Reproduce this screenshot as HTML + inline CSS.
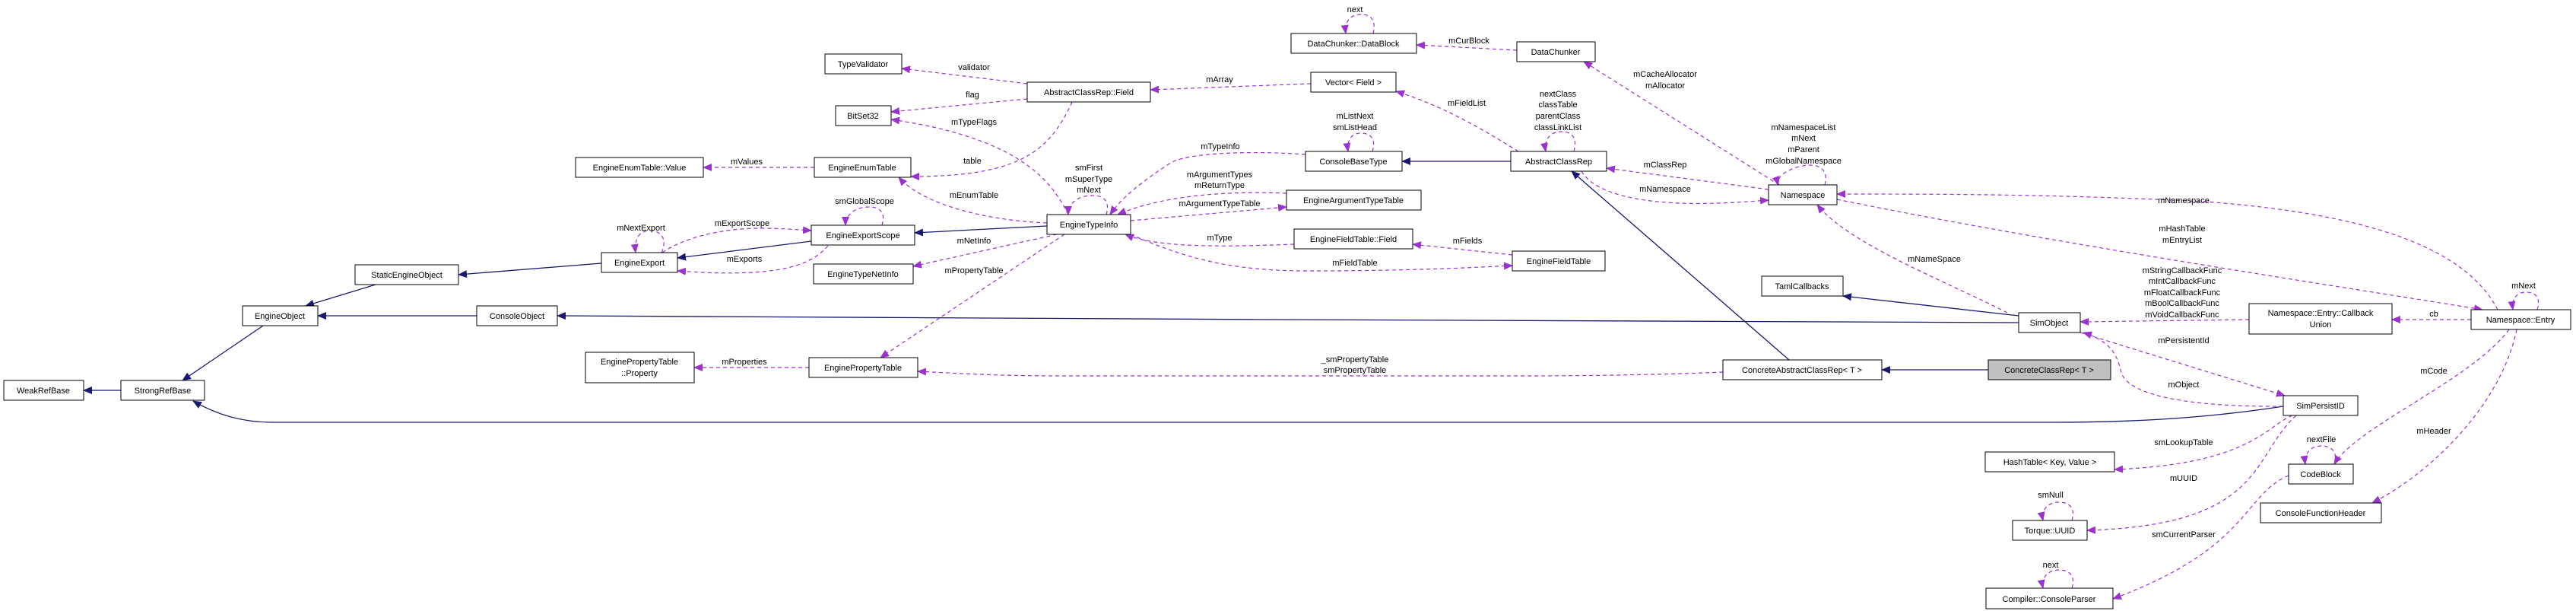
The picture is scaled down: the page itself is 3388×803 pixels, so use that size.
<!DOCTYPE html>
<html><head><meta charset="utf-8"><style>
html,body{margin:0;padding:0;background:#fff;}
svg{display:block;}
text{font-family:"Liberation Sans",Arial,sans-serif;font-size:11px;fill:#000;}
.n{fill:#fff;stroke:#000;stroke-width:1;}
.g{fill:#bfbfbf;stroke:#000;stroke-width:1;}
.sh{stroke:#666;stroke-width:2;}
.i{fill:none;stroke:#191970;stroke-width:1.3;}
.u{fill:none;stroke:#9a32cd;stroke-width:1.2;stroke-dasharray:5,4;}
</style></head><body>
<svg width="3388" height="803" viewBox="0 0 3388 803" xmlns="http://www.w3.org/2000/svg">
<defs>
<marker id="ai" markerWidth="12" markerHeight="10" refX="11" refY="5" orient="auto" markerUnits="userSpaceOnUse"><path d="M0,0 L12,5 L0,10 z" fill="#191970"/></marker>
<marker id="au" markerWidth="12" markerHeight="10" refX="11" refY="5" orient="auto" markerUnits="userSpaceOnUse"><path d="M0,0 L12,5 L0,10 z" fill="#9a32cd"/></marker>
</defs>

<!-- inheritance edges -->
<g class="i">
<path d="M159,513 L110,513" marker-end="url(#ai)"/>
<path d="M346,428 L240,500" marker-end="url(#ai)"/>
<path d="M3003,534 C2900,550 2800,555 2700,555 L357,555 C320,555 285,545 254,527" marker-end="url(#ai)"/>
<path d="M494,374 L402,402" marker-end="url(#ai)"/>
<path d="M627,415 L418,415" marker-end="url(#ai)"/>
<path d="M2655,424 C2300,423 1200,418 733,415" marker-end="url(#ai)"/>
<path d="M791,346 L603,361" marker-end="url(#ai)"/>
<path d="M1067,317 L891,339" marker-end="url(#ai)"/>
<path d="M1377,297 L1203,306" marker-end="url(#ai)"/>
<path d="M1987,212 L1844,212" marker-end="url(#ai)"/>
<path d="M2353,473 L2067,225" marker-end="url(#ai)"/>
<path d="M2655,415 L2424,389" marker-end="url(#ai)"/>
<path d="M2615,486 L2475,486" marker-end="url(#ai)"/>
</g>

<!-- usage edges -->
<g class="u">
<path d="M1071,220 L925,220" marker-end="url(#au)"/>
<path d="M870,332 C878,315 870,303 855,303 C840,303 834,315 836,332" marker-end="url(#au)"/>
<path d="M871,332 C900,312 950,300 1000,300 C1030,300 1050,302 1067,303" marker-end="url(#au)"/>
<path d="M1089,323 C1070,345 1040,355 990,358 C950,360 920,358 891,356" marker-end="url(#au)"/>
<path d="M1160,296 C1165,280 1158,272 1143,272 C1125,272 1112,282 1112,296" marker-end="url(#au)"/>
<path d="M1351,110 L1186,90" marker-end="url(#au)"/>
<path d="M1351,130 L1172,147" marker-end="url(#au)"/>
<path d="M1405,282 C1380,230 1330,180 1172,157" marker-end="url(#au)"/>
<path d="M1724,110 L1513,118" marker-end="url(#au)"/>
<path d="M1410,134 C1380,200 1340,232 1198,232" marker-end="url(#au)"/>
<path d="M1997,199 C1950,170 1900,140 1836,120" marker-end="url(#au)"/>
<path d="M1805,199 C1810,183 1803,175 1790,175 C1777,175 1771,185 1773,199" marker-end="url(#au)"/>
<path d="M1717,203 C1650,198 1560,200 1538,215 C1500,240 1475,260 1460,282" marker-end="url(#au)"/>
<path d="M1455,282 C1460,264 1452,257 1437,257 C1420,257 1405,265 1405,282" marker-end="url(#au)"/>
<path d="M1692,254 C1600,250 1520,260 1470,282" marker-end="url(#au)"/>
<path d="M1487,290 L1692,272" marker-end="url(#au)"/>
<path d="M1377,293 C1300,290 1215,270 1182,233" marker-end="url(#au)"/>
<path d="M1390,308 L1201,350" marker-end="url(#au)"/>
<path d="M1400,308 L1158,470" marker-end="url(#au)"/>
<path d="M1702,321 C1600,325 1520,325 1480,308" marker-end="url(#au)"/>
<path d="M1989,335 L1858,321" marker-end="url(#au)"/>
<path d="M1487,308 C1560,340 1620,356 1720,356 C1850,356 1930,352 1989,349" marker-end="url(#au)"/>
<path d="M1064,483 L913,483" marker-end="url(#au)"/>
<path d="M2266,489 C2200,492 2100,494 2000,494 L1400,494 C1300,494 1250,490 1207,488" marker-end="url(#au)"/>
<path d="M1806,44 C1810,27 1804,19 1790,19 C1776,19 1768,28 1770,44" marker-end="url(#au)"/>
<path d="M1995,66 L1863,59" marker-end="url(#au)"/>
<path d="M2340,243 L2083,81" marker-end="url(#au)"/>
<path d="M2070,199 C2075,180 2067,173 2053,173 C2040,173 2030,183 2033,199" marker-end="url(#au)"/>
<path d="M2326,249 L2113,221" marker-end="url(#au)"/>
<path d="M2080,225 C2100,260 2180,270 2260,267 C2290,266 2310,264 2326,263" marker-end="url(#au)"/>
<path d="M2400,243 C2405,225 2395,217 2380,217 C2365,217 2334,228 2339,243" marker-end="url(#au)"/>
<path d="M3285,407 C3240,320 3100,280 2900,265 C2700,255 2550,255 2416,255" marker-end="url(#au)"/>
<path d="M2416,262 C2700,320 3100,380 3265,407" marker-end="url(#au)"/>
<path d="M2640,411 C2560,370 2430,320 2390,269" marker-end="url(#au)"/>
<path d="M2958,420 L2736,423" marker-end="url(#au)"/>
<path d="M3250,420 L3146,420" marker-end="url(#au)"/>
<path d="M3337,407 C3342,391 3335,384 3322,384 C3310,384 3303,393 3305,407" marker-end="url(#au)"/>
<path d="M2736,437 L3005,520" marker-end="url(#au)"/>
<path d="M3003,534 C2880,535 2800,520 2790,490 C2785,470 2780,450 2740,437" marker-end="url(#au)"/>
<path d="M3015,546 C2980,560 2960,610 2781,617" marker-end="url(#au)"/>
<path d="M3020,546 C2960,600 2980,690 2745,697" marker-end="url(#au)"/>
<path d="M2725,684 C2730,668 2722,660 2708,660 C2694,660 2684,670 2687,684" marker-end="url(#au)"/>
<path d="M3300,433 C3250,500 3100,560 3070,610" marker-end="url(#au)"/>
<path d="M3310,433 C3290,530 3200,620 3120,661" marker-end="url(#au)"/>
<path d="M3070,610 C3075,594 3067,586 3053,586 C3039,586 3030,596 3032,610" marker-end="url(#au)"/>
<path d="M3010,625 C2950,650 2960,720 2779,787" marker-end="url(#au)"/>
<path d="M2725,773 C2730,757 2722,749 2708,749 C2694,749 2684,759 2687,773" marker-end="url(#au)"/>
</g>

<!-- nodes -->
<g>
<rect class="n" x="5" y="500" width="105" height="26"/><text x="57" y="517" text-anchor="middle">WeakRefBase</text>
<rect class="n" x="159" y="500" width="110" height="26"/><text x="214" y="517" text-anchor="middle">StrongRefBase</text>
<rect class="n" x="319" y="402" width="99" height="26"/><text x="368" y="419" text-anchor="middle">EngineObject</text>
<rect class="n" x="627" y="402" width="106" height="26"/><text x="680" y="419" text-anchor="middle">ConsoleObject</text>
<rect class="n" x="467" y="348" width="136" height="26"/><text x="535" y="365" text-anchor="middle">StaticEngineObject</text>
<rect class="n" x="791" y="332" width="100" height="26"/><text x="841" y="349" text-anchor="middle">EngineExport</text>
<rect class="n" x="757" y="207" width="168" height="26"/><text x="841" y="224" text-anchor="middle">EngineEnumTable::Value</text>
<rect class="n" x="770" y="463" width="143" height="40"/><text x="841" y="479" text-anchor="middle">EnginePropertyTable</text><text x="841" y="494" text-anchor="middle">::Property</text>
<rect class="n" x="1085" y="71" width="101" height="26"/><text x="1135" y="88" text-anchor="middle">TypeValidator</text>
<rect class="n" x="1099" y="139" width="73" height="26"/><text x="1135" y="156" text-anchor="middle">BitSet32</text>
<rect class="n" x="1071" y="207" width="127" height="26"/><text x="1134" y="224" text-anchor="middle">EngineEnumTable</text>
<rect class="n" x="1067" y="296" width="136" height="26"/><text x="1135" y="313" text-anchor="middle">EngineExportScope</text>
<rect class="n" x="1070" y="347" width="131" height="26"/><text x="1135" y="364" text-anchor="middle">EngineTypeNetInfo</text>
<rect class="n" x="1064" y="470" width="143" height="26"/><text x="1135" y="487" text-anchor="middle">EnginePropertyTable</text>
<rect class="n" x="1351" y="108" width="162" height="26"/><text x="1432" y="125" text-anchor="middle">AbstractClassRep::Field</text>
<rect class="n" x="1377" y="282" width="110" height="26"/><text x="1432" y="299" text-anchor="middle">EngineTypeInfo</text>
<rect class="n" x="1698" y="44" width="165" height="26"/><text x="1780" y="61" text-anchor="middle">DataChunker::DataBlock</text>
<rect class="n" x="1724" y="95" width="112" height="26"/><text x="1780" y="112" text-anchor="middle">Vector&lt; Field &gt;</text>
<rect class="n" x="1717" y="199" width="127" height="26"/><text x="1780" y="216" text-anchor="middle">ConsoleBaseType</text>
<rect class="n" x="1692" y="250" width="177" height="26"/><text x="1780" y="267" text-anchor="middle">EngineArgumentTypeTable</text>
<rect class="n" x="1702" y="301" width="156" height="26"/><text x="1780" y="318" text-anchor="middle">EngineFieldTable::Field</text>
<rect class="n" x="1995" y="55" width="103" height="26"/><text x="2046" y="72" text-anchor="middle">DataChunker</text>
<rect class="n" x="1987" y="199" width="126" height="26"/><text x="2050" y="216" text-anchor="middle">AbstractClassRep</text>
<rect class="n" x="1989" y="330" width="122" height="26"/><text x="2050" y="347" text-anchor="middle">EngineFieldTable</text>
<rect class="n" x="2326" y="243" width="90" height="26"/><text x="2371" y="260" text-anchor="middle">Namespace</text>
<rect class="n" x="2317" y="363" width="107" height="26"/><text x="2370" y="380" text-anchor="middle">TamlCallbacks</text>
<rect class="n" x="2266" y="473" width="209" height="26"/><text x="2370" y="490" text-anchor="middle">ConcreteAbstractClassRep&lt; T &gt;</text>
<rect class="g" x="2615" y="473" width="161" height="26"/><text x="2695" y="490" text-anchor="middle">ConcreteClassRep&lt; T &gt;</text>
<rect class="n" x="2655" y="411" width="81" height="26"/><text x="2695" y="428" text-anchor="middle">SimObject</text>
<rect class="n" x="2611" y="594" width="170" height="26"/><text x="2696" y="611" text-anchor="middle">HashTable&lt; Key, Value &gt;</text>
<rect class="n" x="2647" y="684" width="98" height="26"/><text x="2696" y="701" text-anchor="middle">Torque::UUID</text>
<rect class="n" x="2612" y="773" width="167" height="27"/><text x="2695" y="791" text-anchor="middle">Compiler::ConsoleParser</text>
<rect class="n" x="2958" y="399" width="188" height="40"/><text x="3052" y="415" text-anchor="middle">Namespace::Entry::Callback</text><text x="3052" y="430" text-anchor="middle">Union</text>
<rect class="n" x="3250" y="407" width="131" height="26"/><text x="3315" y="424" text-anchor="middle">Namespace::Entry</text>
<rect class="n" x="3003" y="520" width="98" height="26"/><text x="3052" y="537" text-anchor="middle">SimPersistID</text>
<rect class="n" x="3010" y="610" width="85" height="26"/><text x="3052" y="627" text-anchor="middle">CodeBlock</text>
<rect class="n" x="2973" y="661" width="159" height="26"/><text x="3052" y="678" text-anchor="middle">ConsoleFunctionHeader</text>
</g>

<!-- edge labels -->
<g text-anchor="middle">
<text x="982" y="216">mValues</text>
<text x="843" y="303">mNextExport</text>
<text x="976" y="297">mExportScope</text>
<text x="979" y="344">mExports</text>
<text x="1137" y="268">smGlobalScope</text>
<text x="979" y="479">mProperties</text>
<text x="1281" y="92">validator</text>
<text x="1279" y="128">flag</text>
<text x="1281" y="164">mTypeFlags</text>
<text x="1279" y="215">table</text>
<text x="1281" y="260">mEnumTable</text>
<text x="1281" y="320">mNetInfo</text>
<text x="1281" y="359">mPropertyTable</text>
<text x="1432" y="224">smFirst</text>
<text x="1432" y="239">mSuperType</text>
<text x="1432" y="253">mNext</text>
<text x="1604" y="108">mArray</text>
<text x="1605" y="196">mTypeInfo</text>
<text x="1604" y="233">mArgumentTypes</text>
<text x="1604" y="247">mReturnType</text>
<text x="1604" y="271">mArgumentTypeTable</text>
<text x="1604" y="316">mType</text>
<text x="1782" y="16">next</text>
<text x="1782" y="156">mListNext</text>
<text x="1782" y="171">smListHead</text>
<text x="1782" y="349">mFieldTable</text>
<text x="1782" y="476">_smPropertyTable</text>
<text x="1782" y="490">smPropertyTable</text>
<text x="1929" y="139">mFieldList</text>
<text x="1930" y="320">mFields</text>
<text x="1932" y="57">mCurBlock</text>
<text x="2049" y="127">nextClass</text>
<text x="2049" y="141">classTable</text>
<text x="2049" y="156">parentClass</text>
<text x="2049" y="171">classLinkList</text>
<text x="2190" y="101">mCacheAllocator</text>
<text x="2190" y="116">mAllocator</text>
<text x="2190" y="220">mClassRep</text>
<text x="2190" y="252">mNamespace</text>
<text x="2372" y="171">mNamespaceList</text>
<text x="2372" y="185">mNext</text>
<text x="2372" y="200">mParent</text>
<text x="2372" y="215">mGlobalNamespace</text>
<text x="2544" y="344">mNameSpace</text>
<text x="2872" y="267">mNamespace</text>
<text x="2870" y="304">mHashTable</text>
<text x="2870" y="319">mEntryList</text>
<text x="2870" y="359">mStringCallbackFunc</text>
<text x="2870" y="373">mIntCallbackFunc</text>
<text x="2870" y="388">mFloatCallbackFunc</text>
<text x="2870" y="402">mBoolCallbackFunc</text>
<text x="2870" y="417">mVoidCallbackFunc</text>
<text x="3201" y="416">cb</text>
<text x="3319" y="379">mNext</text>
<text x="2872" y="451">mPersistentId</text>
<text x="2872" y="509">mObject</text>
<text x="3201" y="491">mCode</text>
<text x="3201" y="570">mHeader</text>
<text x="2872" y="585">smLookupTable</text>
<text x="3053" y="581">nextFile</text>
<text x="2872" y="632">mUUID</text>
<text x="2697" y="654">smNull</text>
<text x="2872" y="706">smCurrentParser</text>
<text x="2697" y="746">next</text>
</g>
</svg>
</body></html>
